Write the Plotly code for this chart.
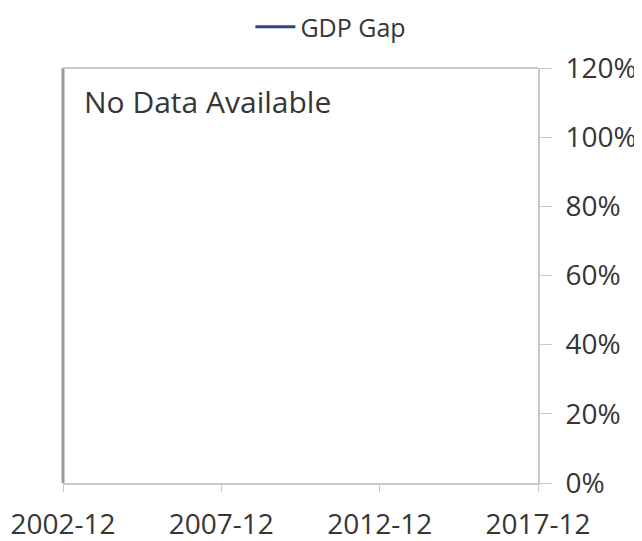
import plotly.graph_objects as go

# Data (the reference chart shows no data points)
dates = [None]
gdp_gap = [None]
series_name = "GDP Gap"
x_tickvals = ["2002-12-01", "2007-12-01", "2012-12-01", "2017-12-01"]
x_ticktext = ["2002-12", "2007-12", "2012-12", "2017-12"]
y_tickvals = [0, 0.2, 0.4, 0.6, 0.8, 1.0, 1.2]
no_data_text = "No Data Available"

FONT = "Open Sans"
TXT = "#363636"
AX = "#c8c8c8"

fig = go.Figure()
fig.add_trace(go.Scatter(
    x=dates, y=gdp_gap, mode="lines", name=series_name,
    line=dict(color="#2d4582", width=3), showlegend=True,
))

fig.update_layout(
    width=642, height=541,
    margin=dict(l=55, r=112, t=60, b=66, autoexpand=False),
    paper_bgcolor="white", plot_bgcolor="white",
    font=dict(family=FONT, size=26, color=TXT),
    showlegend=True,
    legend=dict(orientation="h", x=0.564, xanchor="center", y=1 - 19 / 541, yanchor="middle",
                yref="container", font=dict(size=25, color=TXT), itemwidth=40),
    xaxis=dict(type="date", range=["2002-12-01", "2017-12-01"], automargin=False,
               tickvals=x_tickvals, ticktext=x_ticktext,
               showgrid=False, zeroline=False, showline=True, linecolor=AX, linewidth=2,
               ticks="outside", ticklen=7, tickcolor=AX, tickwidth=1, ticklabelstandoff=8,
               tickfont=dict(size=28, color=TXT)),
    yaxis=dict(side="right", range=[0, 1.2], tickvals=y_tickvals, tickformat=".0%",
               automargin=False,
               showgrid=False, zeroline=False, showline=True, linecolor=AX, linewidth=2,
               ticks="outside", ticklen=12, tickcolor=AX, tickwidth=1, ticklabelstandoff=8,
               tickfont=dict(size=28, color=TXT)),
    annotations=[dict(text=no_data_text, xref="paper", yref="paper", x=0.04, y=0.92,
                      xanchor="left", yanchor="middle", showarrow=False,
                      font=dict(size=30, color=TXT))],
    shapes=[
        dict(type="line", xref="paper", yref="paper", x0=0, x1=0, y0=0, y1=1,
             line=dict(color="#9a9a9a", width=3)),
        dict(type="line", xref="paper", yref="paper", x0=0, x1=1, y0=1, y1=1,
             line=dict(color=AX, width=2)),
    ],
)

fig.write_html("out.html")
